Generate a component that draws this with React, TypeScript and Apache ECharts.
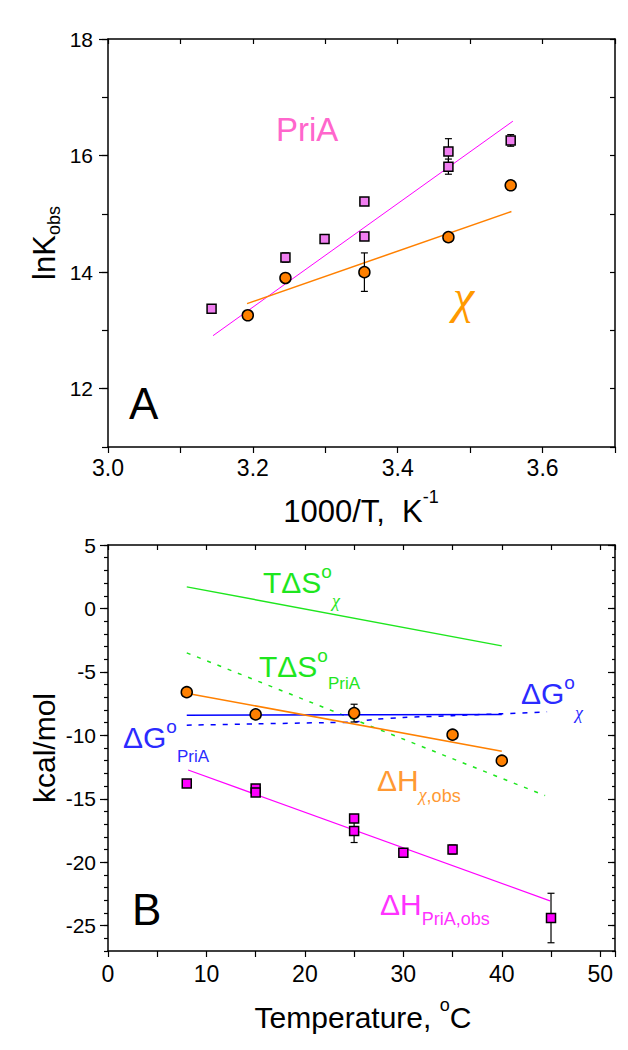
import React, { useEffect, useRef } from "react";
import * as echarts from "echarts";

const SANS = '"Liberation Sans", Arial, Helvetica, sans-serif';
const SERIF = '"Liberation Serif", "Times New Roman", serif';

// ---------- Panel A : ln K_obs vs 1000/T ----------
const priaInvT = [3.143, 3.245, 3.299, 3.354, 3.354, 3.47, 3.47, 3.556];
const priaLnK = [13.37, 14.25, 14.57, 15.21, 14.61, 16.07, 15.81, 16.26];
const priaLnKErr = [0.05, 0.08, 0.06, 0.06, 0.06, 0.22, 0.13, 0.1];
const chiInvT = [3.193, 3.245, 3.354, 3.47, 3.556];
const chiLnK = [13.26, 13.9, 14.0, 14.6, 15.49];
const chiLnKErr = [0.04, 0.05, 0.33, 0.08, 0.08];
const priaFitInvT = [3.145, 3.559];
const priaFitLnK = [12.91, 16.59];
const chiFitInvT = [3.192, 3.557];
const chiFitLnK = [13.46, 15.04];
const aXTicks = [3.0, 3.2, 3.4, 3.6];
const aYTicks = [12, 14, 16, 18];

// ---------- Panel B : thermodynamics vs temperature ----------
const chiTemp = [8, 15, 25, 35, 40];
const chiDH = [-6.6, -8.35, -8.25, -9.95, -12.0];
const chiDHErr = [0.3, 0.25, 0.7, 0.3, 0.3];
const priaTemp = [8, 15, 15, 25, 25, 30, 35, 45];
const priaDH = [-13.8, -14.2, -14.5, -16.55, -17.55, -19.25, -19.0, -24.4];
const priaDHErr = [0.2, 0.2, 0.2, 0.3, 0.9, 0.2, 0.35, 1.95];
const chiDHFitT = [8.1, 40];
const chiDHFit = [-6.7, -11.25];
const priaDHFitT = [8.14, 44.9];
const priaDHFit = [-12.73, -23.05];
const chiTdST = [8, 40];
const chiTdS = [1.7, -2.95];
const priaTdST = [8, 44.4];
const priaTdS = [-3.5, -14.75];
const chiDGT = [8, 40];
const chiDG = [-8.42, -8.36];
const priaDGT = [8, 15, 22, 25, 27, 30, 35, 40, 44.6];
const priaDG = [-9.2, -9.1, -9.0, -8.95, -8.75, -8.6, -8.45, -8.3, -8.15];
const bXTicks = [0, 10, 20, 30, 40, 50];
const bYTicks = [-25, -20, -15, -10, -5, 0, 5];

const GREEN = "#1ee61e";
const BLUE = "#0000ff";
const BLUE_T = "#2b2bff";
const ORANGE = "#ff8000";
const MAGENTA = "#ff00ff";

const pairs = (xs: number[], ys: number[]) => xs.map((x, i) => [x, ys[i]]);
const near = (list: number[], v: number) => list.some((t) => Math.abs(t - v) < 1e-6);

let measureCtx: CanvasRenderingContext2D | null = null;
function textWidth(t: string, size: number, family: string, style: string) {
  if (!measureCtx) measureCtx = document.createElement("canvas").getContext("2d");
  if (!measureCtx) return t.length * size * 0.55;
  measureCtx.font = `${style} normal ${size}px ${family}`;
  return measureCtx.measureText(t).width;
}

type Part = { t: string; size: number; dy?: number; family?: string; style?: string };
function composite(x: number, y: number, parts: Part[], color: string, center = false, rotation = 0) {
  let cx = 0;
  const kids: any[] = [];
  for (const p of parts) {
    const fam = p.family || SANS;
    const st = p.style || "normal";
    kids.push({
      type: "text",
      x: cx,
      y: p.dy || 0,
      style: {
        text: p.t,
        fill: color,
        fontSize: p.size,
        fontFamily: fam,
        fontStyle: st,
        textAlign: "left",
        textVerticalAlign: "middle",
        align: "left",
        verticalAlign: "middle",
      },
    });
    cx += textWidth(p.t, p.size, fam, st);
  }
  if (center) kids.forEach((k) => (k.x -= cx / 2));
  return { type: "group", x, y, rotation, z: 20, children: kids };
}

function errorBars(xs: number[], ys: number[], es: number[], xi: number, yi: number) {
  return {
    type: "custom",
    xAxisIndex: xi,
    yAxisIndex: yi,
    silent: true,
    z: 3,
    data: xs.map((x, i) => [x, ys[i], es[i]]),
    encode: { x: 0, y: 1 },
    renderItem: (_p: any, api: any) => {
      const x = api.value(0);
      const y = api.value(1);
      const e = api.value(2);
      const hi = api.coord([x, y + e]);
      const lo = api.coord([x, y - e]);
      const c = 3.5;
      const st = { stroke: "#000", lineWidth: 1.2 };
      return {
        type: "group",
        children: [
          { type: "line", shape: { x1: hi[0], y1: hi[1], x2: lo[0], y2: lo[1] }, style: st },
          { type: "line", shape: { x1: hi[0] - c, y1: hi[1], x2: hi[0] + c, y2: hi[1] }, style: st },
          { type: "line", shape: { x1: lo[0] - c, y1: lo[1], x2: lo[0] + c, y2: lo[1] }, style: st },
        ],
      };
    },
  };
}

function fitLine(xs: number[], ys: number[], color: string, width: number, xi: number, yi: number, dash?: number[], smooth = false) {
  return {
    type: "line",
    xAxisIndex: xi,
    yAxisIndex: yi,
    data: pairs(xs, ys),
    symbol: "none",
    showSymbol: false,
    smooth: smooth ? 0.3 : false,
    silent: true,
    z: 2,
    lineStyle: { color, width, type: dash || "solid" },
  };
}

function scatter(xs: number[], ys: number[], symbol: string, size: number, color: string, xi: number, yi: number) {
  return {
    type: "scatter",
    xAxisIndex: xi,
    yAxisIndex: yi,
    data: pairs(xs, ys),
    symbol,
    symbolSize: size,
    silent: true,
    z: 4,
    itemStyle: { color, borderColor: "#000", borderWidth: 1.5, opacity: 1 },
  };
}

const LINE = { show: true, onZero: false, lineStyle: { color: "#000", width: 1.5 } };
const NOLINE = { show: false, onZero: false };
const tick = (length: number, inside = false, extra: any = {}) => ({
  show: true,
  inside,
  length,
  lineStyle: { color: "#000", width: 1.2 },
  ...extra,
});
const NOLABEL = { show: false };
const base = { type: "value", splitLine: { show: false }, axisPointer: { show: false } };

export default function App() {
  const ref = useRef<HTMLDivElement>(null);

  useEffect(() => {
    if (!ref.current) return;
    const chart = echarts.init(ref.current, undefined, { renderer: "svg" });

    const option: any = {
      animation: false,
      backgroundColor: "#fff",
      grid: [
        { left: 108, top: 39, width: 507, height: 408 },
        { left: 108, top: 545, width: 507, height: 406 },
      ],
      xAxis: [
        {
          ...base,
          gridIndex: 0,
          position: "bottom",
          min: 3.0,
          max: 3.7,
          interval: 0.1,
          axisLine: LINE,
          axisTick: tick(6),
          axisLabel: {
            formatter: (v: number) => (near(aXTicks, v) ? v.toFixed(1) : ""),
            fontSize: 23,
            fontFamily: SANS,
            color: "#000",
            margin: 9,
          },
        },
        {
          ...base,
          gridIndex: 0,
          position: "top",
          min: 3.0,
          max: 3.7,
          interval: 0.1,
          axisLine: LINE,
          axisTick: tick(5, true),
          axisLabel: NOLABEL,
        },
        {
          ...base,
          gridIndex: 1,
          position: "bottom",
          min: 0,
          max: 51.5,
          interval: 5,
          axisLine: LINE,
          axisTick: tick(6),
          axisLabel: {
            formatter: (v: number) => (near(bXTicks, v) ? String(v) : ""),
            fontSize: 23,
            fontFamily: SANS,
            color: "#000",
            margin: 11,
          },
        },
        {
          ...base,
          gridIndex: 1,
          position: "top",
          min: 0,
          max: 51.5,
          interval: 5,
          axisLine: LINE,
          axisTick: tick(5, true),
          axisLabel: NOLABEL,
        },
      ],
      yAxis: [
        {
          ...base,
          gridIndex: 0,
          position: "left",
          min: 11,
          max: 18,
          interval: 1,
          axisLine: LINE,
          axisTick: tick(6),
          axisLabel: {
            formatter: (v: number) => (near(aYTicks, v) ? String(v) : ""),
            fontSize: 21,
            fontFamily: SANS,
            color: "#000",
            margin: 15,
          },
        },
        {
          ...base,
          gridIndex: 0,
          position: "left",
          min: 11,
          max: 18,
          axisLine: NOLINE,
          axisTick: tick(9, false, { customValues: aYTicks }),
          axisLabel: NOLABEL,
        },
        {
          ...base,
          gridIndex: 0,
          position: "right",
          min: 11,
          max: 18,
          interval: 1,
          axisLine: LINE,
          axisTick: tick(5, true),
          axisLabel: NOLABEL,
        },
        {
          ...base,
          gridIndex: 1,
          position: "left",
          min: -27,
          max: 5,
          interval: 1,
          axisLine: LINE,
          axisTick: tick(4),
          axisLabel: {
            formatter: (v: number) => (near(bYTicks, v) ? String(v) : ""),
            fontSize: 21,
            fontFamily: SANS,
            color: "#000",
            margin: 12,
          },
        },
        {
          ...base,
          gridIndex: 1,
          position: "left",
          min: -27,
          max: 5,
          axisLine: NOLINE,
          axisTick: tick(8, false, { customValues: bYTicks }),
          axisLabel: NOLABEL,
        },
        {
          ...base,
          gridIndex: 1,
          position: "right",
          min: -27,
          max: 5,
          interval: 1,
          axisLine: LINE,
          axisTick: tick(3, true),
          axisLabel: NOLABEL,
        },
        {
          ...base,
          gridIndex: 1,
          position: "right",
          min: -27,
          max: 5,
          axisLine: NOLINE,
          axisTick: tick(7, true, { customValues: bYTicks }),
          axisLabel: NOLABEL,
        },
      ],
      series: [
        // Panel A
        fitLine(priaFitInvT, priaFitLnK, MAGENTA, 1, 0, 0),
        fitLine(chiFitInvT, chiFitLnK, ORANGE, 1.5, 0, 0),
        errorBars(priaInvT, priaLnK, priaLnKErr, 0, 0),
        errorBars(chiInvT, chiLnK, chiLnKErr, 0, 0),
        scatter(priaInvT, priaLnK, "rect", 9, "#f07ef0", 0, 0),
        scatter(chiInvT, chiLnK, "circle", 11, ORANGE, 0, 0),
        // Panel B
        fitLine(chiTdST, chiTdS, GREEN, 1.5, 2, 3),
        fitLine(priaTdST, priaTdS, GREEN, 1.5, 2, 3, [4, 7]),
        fitLine(chiDGT, chiDG, BLUE, 1.5, 2, 3),
        fitLine(priaDGT, priaDG, BLUE, 1.5, 2, 3, [5, 7], true),
        fitLine(chiDHFitT, chiDHFit, ORANGE, 1.5, 2, 3),
        fitLine(priaDHFitT, priaDHFit, MAGENTA, 1.2, 2, 3),
        errorBars(chiTemp, chiDH, chiDHErr, 2, 3),
        errorBars(priaTemp, priaDH, priaDHErr, 2, 3),
        scatter(chiTemp, chiDH, "circle", 11, ORANGE, 2, 3),
        scatter(priaTemp, priaDH, "rect", 9, MAGENTA, 2, 3),
      ],
      graphic: [
        // Panel A annotations
        composite(276, 129, [{ t: "PriA", size: 33 }], "#ff66cc"),
        composite(453, 296, [{ t: "χ", size: 48, family: SERIF, style: "italic" }], "#ff9900"),
        composite(129, 403, [{ t: "A", size: 44 }], "#000"),
        // Panel A axis titles
        composite(361, 511, [{ t: "1000/T,  K", size: 31 }, { t: "-1", size: 18, dy: -14 }], "#000", true),
        composite(44, 243, [{ t: "lnK", size: 31 }, { t: "obs", size: 18, dy: 10 }], "#000", true, Math.PI / 2),
        // Panel B annotations
        composite(263, 582, [{ t: "TΔS", size: 30 }, { t: "o", size: 19, dy: -11 }, { t: "χ", size: 18, dy: 19, family: SERIF, style: "italic" }], GREEN),
        composite(259, 666, [{ t: "TΔS", size: 30 }, { t: "o", size: 19, dy: -11 }, { t: "PriA", size: 17, dy: 17 }], GREEN),
        composite(521, 693, [{ t: "ΔG", size: 30 }, { t: "o", size: 19, dy: -11 }, { t: "χ", size: 18, dy: 20, family: SERIF, style: "italic" }], BLUE_T),
        composite(123, 737, [{ t: "ΔG", size: 30 }, { t: "o", size: 19, dy: -11 }, { t: "PriA", size: 17, dy: 19 }], BLUE_T),
        composite(377, 780, [{ t: "ΔH", size: 30 }, { t: "χ", size: 18, dy: 15, family: SERIF, style: "italic" }, { t: ",obs", size: 18, dy: 16 }], "#ff9933"),
        composite(380, 904, [{ t: "ΔH", size: 30 }, { t: "PriA,obs", size: 18, dy: 15 }], "#ff33ff"),
        composite(132, 909, [{ t: "B", size: 44 }], "#000"),
        // Panel B axis titles
        composite(363, 1017, [{ t: "Temperature, ", size: 30 }, { t: "o", size: 18, dy: -12 }, { t: "C", size: 30 }], "#000", true),
        composite(44, 748, [{ t: "kcal/mol", size: 30 }], "#000", true, Math.PI / 2),
      ],
    };

    chart.setOption(option);
    return () => chart.dispose();
  }, []);

  return (
    <div
      ref={ref}
      style={{ position: "absolute", left: 0, top: 0, width: 628, height: 1050, background: "#fff" }}
    />
  );
}
